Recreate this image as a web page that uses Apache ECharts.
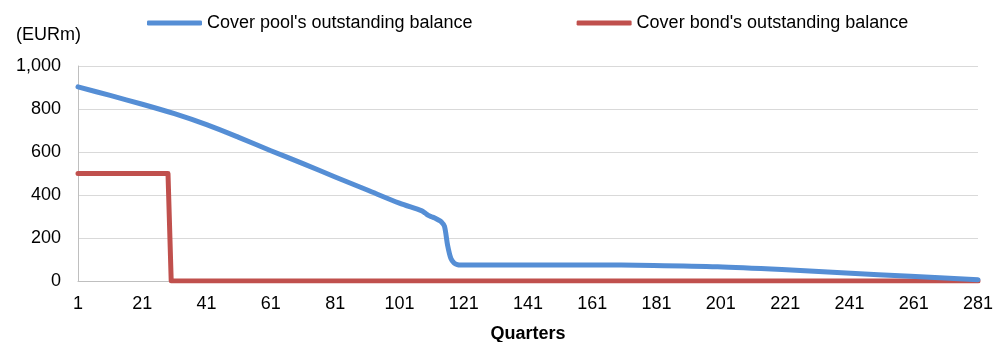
<!DOCTYPE html>
<html>
<head>
<meta charset="utf-8">
<script src="https://cdn.jsdelivr.net/npm/echarts@6/dist/echarts.min.js"></script>
<style>
html,body{margin:0;padding:0;background:#fff;}
#chart{width:1004px;height:342px;}
</style>
</head>
<body>
<div id="chart"></div>
<script>
// Category labels: quarters 1..281
var quarters = [];
for (var i = 1; i <= 281; i++) quarters.push(String(i));

// Series names
var poolName = "Cover pool's outstanding balance";
var bondName = "Cover bond's outstanding balance";

// Cover pool balance: [quarter, EURm]
var poolQuarters = [1, 11, 21, 31, 41, 51, 61, 71, 81, 91, 101, 108, 109, 110, 111, 112, 113, 114, 115, 116, 117, 118, 119, 120, 140, 160, 180, 200, 220, 240, 260, 281];
var poolValues   = [903, 863, 822, 778, 727, 668, 606, 546, 484, 423, 362, 326, 316, 305, 299, 293, 285, 276, 255, 165, 105, 84, 76, 74, 75, 75, 72, 66, 53, 37, 22, 6];

// Cover bond balance: [quarter, EURm]
var bondQuarters = [1, 29, 30, 281];
var bondValues   = [500, 500, 0, 0];

// Y axis
var yMin = 0, yMax = 1000, yStep = 200;

function pairs(qs, vs) {
  var out = [];
  for (var i = 0; i < qs.length; i++) out.push([String(qs[i]), vs[i]]);
  return out;
}

var chart = echarts.init(document.getElementById('chart'));
var font = 'Liberation Sans, Arial, sans-serif';
chart.setOption({
  animation: false,
  textStyle: { fontFamily: font },
  legend: {
    left: 142, top: 9,
    itemWidth: 55, itemHeight: 5, itemGap: 104,
    icon: 'roundRect',
    textStyle: { fontSize: 18, color: '#000', fontFamily: font },
    data: [poolName, bondName]
  },
  grid: { left: 78, right: 26, top: 66, bottom: 61, containLabel: false, outerBoundsMode: 'none' },
  xAxis: {
    type: 'category',
    data: quarters,
    boundaryGap: false,
    name: 'Quarters',
    nameLocation: 'middle',
    nameGap: 44,
    nameTextStyle: { fontSize: 18, fontWeight: 'bold', color: '#000', fontFamily: font },
    axisLine: { lineStyle: { color: '#bfbfbf', width: 1 } },
    axisTick: { show: false },
    axisLabel: { interval: 19, fontSize: 18, color: '#000', margin: 14, fontFamily: font },
    splitLine: { show: false }
  },
  yAxis: {
    type: 'value',
    min: yMin, max: yMax, interval: yStep,
    name: '(EURm)',
    nameLocation: 'end',
    nameGap: 22,
    nameTextStyle: { fontSize: 18, color: '#000', align: 'right', padding: [0, -3, 0, 0], fontFamily: font },
    axisLine: { show: true, lineStyle: { color: '#bfbfbf', width: 1 } },
    axisTick: { show: false },
    axisLabel: {
      fontSize: 18, color: '#000', margin: 17, fontFamily: font,
      formatter: function (v) { return v.toLocaleString('en-US'); }
    },
    splitLine: { lineStyle: { color: '#d9d9d9', width: 1 } }
  },
  series: [
    {
      name: poolName, type: 'line', showSymbol: false, symbol: 'none',
      smooth: 0.3,
      data: pairs(poolQuarters, poolValues),
      itemStyle: { color: '#558ed5' },
      lineStyle: { color: '#558ed5', width: 5, cap: 'round', join: 'round' },
      z: 3
    },
    {
      name: bondName, type: 'line', showSymbol: false, symbol: 'none',
      data: pairs(bondQuarters, bondValues),
      itemStyle: { color: '#c0504d' },
      lineStyle: { color: '#c0504d', width: 5, cap: 'round', join: 'round' },
      z: 2
    }
  ]
});
</script>
</body>
</html>
